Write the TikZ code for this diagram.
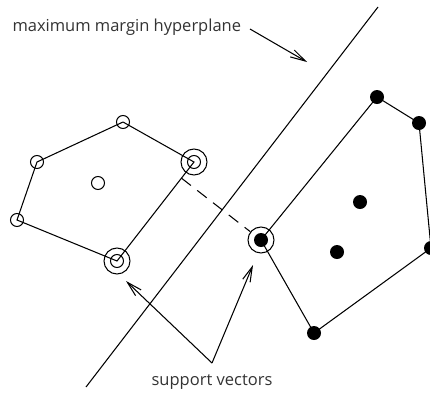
\documentclass[tikz,border=0pt]{standalone}
\usepackage{fontspec}
\setmainfont{Open Sans}
\usetikzlibrary{arrows.meta,calc}
\begin{document}
\begin{tikzpicture}[x=1pt,y=-1pt, line width=1.05pt,
  odot/.style={circle,draw,inner sep=0pt,minimum size=13pt},
  fdot/.style={circle,fill,inner sep=0pt,minimum size=14pt},
  ring/.style={circle,draw,inner sep=0pt,minimum size=26pt},
  lbl/.style={font=\fontsize{16.5}{19}\selectfont, text=black!80, inner sep=0pt},
  arr/.style={-{Straight Barb[length=15pt,width=8pt]}}]
\useasboundingbox (0,0) rectangle (430,392);
% left class
\node[odot] (L1) at (123,122) {};
\node[odot] (L2) at (37,162) {};
\node[odot] (L3) at (17,220) {};
\node[odot] (L4) at (117,261) {};
\node[ring] (L4r) at (117,261) {};
\node[odot] (L5) at (194,162) {};
\node[ring] (L5r) at (194,162) {};
\node[odot] (L6) at (98,183) {};
\draw (L1.center) -- (L2.center) -- (L3.center) -- (L4.center) -- (L5.center) -- (L1.center);
% right class
\node[fdot] (R1) at (377,97) {};
\node[fdot] (R2) at (419,123) {};
\node[fdot] (R3) at (431,248) {};
\node[fdot] (R4) at (314,333) {};
\node[fdot] (S) at (261,240) {};
\node[ring] (Sr) at (261,240) {};
\node[fdot] (R5) at (360,202) {};
\node[fdot] (R6) at (337,252) {};
\draw (S.center) -- (R1.center) -- (R2.center) -- (R3.center) -- (R4.center) -- (S.center);
% hyperplane
\coordinate (h1) at (378,7);
\coordinate (h2) at (86,387);
\draw (h1) -- (h2);
% margin
\coordinate (foot) at ($(L5)!(S)!(L4)$);
\draw[dash pattern=on 12pt off 8pt] (foot) -- (Sr);
% labels
\node[lbl, anchor=base west] (t1) at (12,31) {maximum margin hyperplane};
\coordinate (a1s) at (250,29);
\coordinate (a1e) at (307,62);
\draw[arr] (a1s) -- (a1e);
\node[lbl, anchor=base] (t2) at (212,385) {support vectors};
\coordinate (v) at (212,363);
\coordinate (vl) at (126,281);
\coordinate (vr) at (253,265);
\draw[arr] (v) -- (vl);
\draw[arr] (v) -- (vr);
\end{tikzpicture}
\end{document}
